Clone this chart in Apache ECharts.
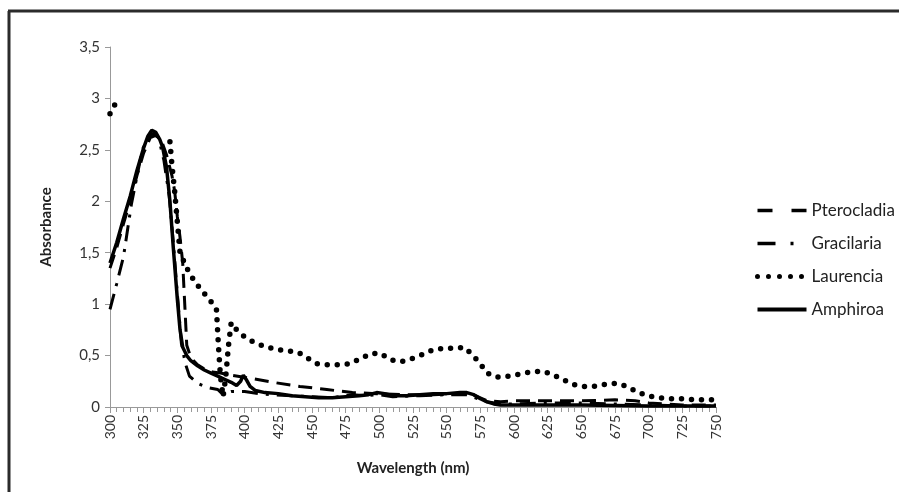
<!DOCTYPE html>
<html>
<head>
<meta charset="utf-8">
<script src="https://cdn.jsdelivr.net/npm/echarts@6/dist/echarts.min.js"></script>
<style>
  html, body { margin: 0; padding: 0; background: #fff; }
  #chart { width: 899px; height: 492px; }
</style>
</head>
<body>
<div id="chart"></div>
<script>
// absorbance spectra (null = off the scale / not plotted)
var pteroX = [300, 305, 310, 315, 320, 325, 330, 334, 338, 342, 346, 348, 350, 352, 354, 355.5, 357, 360, 365, 370, 376, 382, 390, 404, 421, 441, 461, 480, 498, 520, 540, 560, 565, 570, 575, 580, 590, 600, 625, 650, 675, 690, 700, 725, 750];
var pteroY = [1.35, 1.55, 1.78, 2.0, 2.25, 2.47, 2.62, 2.64, 2.6, 2.45, 2.25, 2.1, 1.85, 1.65, 1.4, 1.0, 0.6, 0.48, 0.41, 0.37, 0.34, 0.33, 0.31, 0.28, 0.24, 0.2, 0.17, 0.14, 0.13, 0.12, 0.12, 0.13, 0.14, 0.12, 0.09, 0.06, 0.05, 0.06, 0.06, 0.06, 0.07, 0.06, 0.04, 0.02, 0.02];

var gracX = [300, 305, 310, 316, 320, 324, 328, 332, 336, 340, 344, 347, 350, 353, 356, 359, 365, 372, 380, 384, 390, 400, 410, 420, 435, 450, 465, 480, 490, 500, 510, 530, 550, 565, 575, 580, 590, 600, 625, 650, 675, 700, 725, 750];
var gracY = [0.95, 1.2, 1.46, 1.98, 2.24, 2.5, 2.62, 2.66, 2.62, 2.4, 2.05, 1.6, 1.1, 0.62, 0.42, 0.3, 0.23, 0.19, 0.17, 0.12, 0.15, 0.15, 0.13, 0.12, 0.11, 0.1, 0.09, 0.12, 0.11, 0.12, 0.1, 0.11, 0.12, 0.12, 0.07, 0.05, 0.03, 0.03, 0.04, 0.04, 0.03, 0.02, 0.01, 0.01];

var laurX = [300, 304, 306, 344.5, 346, 348, 350, 352, 356, 359, 364, 369, 374, 379, 380.5, 382, 384, 386, 388, 390, 394, 400, 408, 415, 423, 431, 440, 446, 454, 462, 470, 478, 486, 494, 501, 508, 516, 524, 532, 539, 547, 555, 563, 569, 575, 580, 587, 596, 604, 612, 621, 628, 636, 644, 651, 659, 668, 676, 684, 691, 699, 707, 715, 725, 735, 750];
var laurY = [2.85, 2.95, null, 2.58, 2.35, 2.1, 1.8, 1.5, 1.38, 1.3, 1.2, 1.12, 1.04, 0.96, 0.6, 0.3, 0.1, 0.3, 0.6, 0.82, 0.75, 0.68, 0.62, 0.59, 0.56, 0.55, 0.53, 0.48, 0.42, 0.41, 0.41, 0.42, 0.47, 0.52, 0.52, 0.46, 0.44, 0.47, 0.51, 0.55, 0.57, 0.57, 0.58, 0.51, 0.42, 0.33, 0.29, 0.3, 0.32, 0.34, 0.35, 0.32, 0.27, 0.22, 0.2, 0.2, 0.22, 0.23, 0.2, 0.15, 0.11, 0.09, 0.08, 0.08, 0.07, 0.07];

var amphX = [300, 305, 310, 315, 320, 325, 328, 331, 334, 337, 339, 342, 344.5, 347, 350, 352, 354, 357, 360, 365, 370, 375, 380, 385, 390, 394, 397, 399, 401, 404, 408, 415, 425, 435, 445, 455, 465, 475, 485, 492, 498, 504, 510, 520, 530, 540, 550, 560, 565, 570, 575, 580, 585, 590, 600, 650, 700, 750];
var amphY = [1.4, 1.6, 1.83, 2.05, 2.3, 2.52, 2.63, 2.69, 2.67, 2.6, 2.53, 2.33, 2.0, 1.55, 1.05, 0.75, 0.58, 0.5, 0.45, 0.4, 0.36, 0.33, 0.3, 0.27, 0.24, 0.21, 0.25, 0.31, 0.27, 0.2, 0.16, 0.14, 0.13, 0.11, 0.1, 0.09, 0.09, 0.1, 0.11, 0.12, 0.14, 0.13, 0.11, 0.11, 0.12, 0.13, 0.13, 0.14, 0.14, 0.12, 0.08, 0.05, 0.03, 0.02, 0.02, 0.02, 0.01, 0.01];

function pairs(xs, ys) {
  return xs.map(function (x, i) { return [x, ys[i] === null ? '-' : ys[i]]; });
}

var font = 'Lato';
var myChart = echarts.init(document.getElementById('chart'));

function lineSeries(name, xs, ys, dash, width, cap) {
  return {
    name: name,
    type: 'line',
    data: pairs(xs, ys),
    symbol: 'none',
    connectNulls: false,
    lineStyle: { color: '#000', width: width, type: dash, cap: cap || 'butt' },
    itemStyle: { color: '#000' }
  };
}

var option = {
  animation: false,
  backgroundColor: '#fff',
  graphic: [
    { type: 'line', shape: { x1: 9, y1: 11, x2: 9, y2: 492 }, style: { stroke: '#2b2b2b', lineWidth: 3 } },
    { type: 'line', shape: { x1: 8, y1: 11, x2: 899, y2: 11 }, style: { stroke: '#2b2b2b', lineWidth: 3 } }
  ],
  grid: { left: 110, right: 183, top: 47, bottom: 85 },
  legend: {
    orient: 'vertical',
    left: 750,
    top: 197,
    itemWidth: 49,
    itemHeight: 14,
    itemGap: 16,
    itemStyle: { opacity: 0 },
    textStyle: { fontFamily: font, fontSize: 17, color: '#222' },
    data: [
      { name: 'Pterocladia', lineStyle: { width: 3.5, type: [15, 19], color: '#000' } },
      { name: 'Gracilaria', lineStyle: { width: 3.5, type: [18, 15, 3, 20], color: '#000' } },
      { name: 'Laurencia', lineStyle: { width: 5, type: [0, 11], cap: 'round', color: '#000' } },
      { name: 'Amphiroa', lineStyle: { width: 4, type: 'solid', color: '#000' } }
    ]
  },
  xAxis: {
    type: 'value',
    min: 300,
    max: 750,
    interval: 25,
    name: 'Wavelength (nm)',
    nameLocation: 'middle',
    nameGap: 54,
    nameTextStyle: { fontFamily: font, fontSize: 15, fontWeight: 'bold', color: '#222' },
    axisLine: { lineStyle: { color: '#999', width: 1 } },
    axisTick: { show: true, length: 6, lineStyle: { color: '#999' } },
    minorTick: { show: true, splitNumber: 5, length: 5, lineStyle: { color: '#999' } },
    splitLine: { show: false },
    axisLabel: { rotate: 90, fontFamily: font, fontSize: 14, color: '#333', margin: 8 }
  },
  yAxis: {
    type: 'value',
    min: 0,
    max: 3.5,
    interval: 0.5,
    name: 'Absorbance',
    nameLocation: 'middle',
    nameGap: 56,
    nameTextStyle: { fontFamily: font, fontSize: 15, fontWeight: 'bold', color: '#222' },
    axisLine: { show: true, lineStyle: { color: '#999', width: 1 } },
    axisTick: { show: true, length: 5, lineStyle: { color: '#999' } },
    splitLine: { show: false },
    axisLabel: {
      fontFamily: font, fontSize: 15, color: '#333', margin: 10,
      formatter: function (v) { return String(v).replace('.', ','); }
    }
  },
  series: [
    lineSeries('Pterocladia', pteroX, pteroY, [14, 8], 3),
    lineSeries('Gracilaria', gracX, gracY, [16, 8, 3, 8], 3),
    lineSeries('Laurencia', laurX, laurY, [0, 10], 5.5, 'round'),
    lineSeries('Amphiroa', amphX, amphY, 'solid', 3.5)
  ]
};
myChart.setOption(option);
</script>
</body>
</html>
